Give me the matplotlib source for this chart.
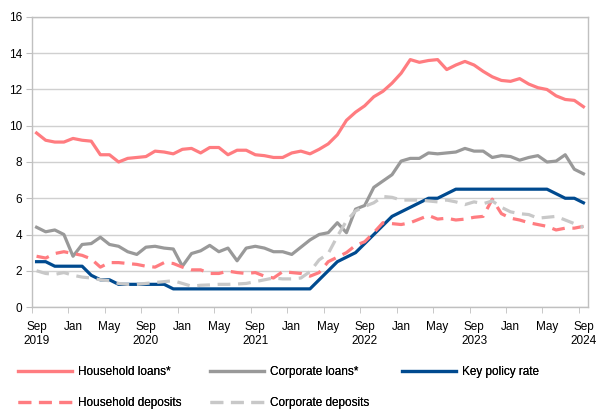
import numpy as np
import matplotlib
matplotlib.use('Agg')
import matplotlib.pyplot as plt

# monthly data, Sep 2019 .. Sep 2024
months = np.arange(61)

household_loans = [9.6, 9.2, 9.1, 9.1, 9.3, 9.2, 9.15, 8.4, 8.4, 8.0, 8.2, 8.25, 8.3,
                   8.6, 8.55, 8.45, 8.7, 8.75, 8.5, 8.8, 8.8, 8.4, 8.65, 8.65, 8.4,
                   8.35, 8.25, 8.25, 8.5, 8.6, 8.45, 8.7, 9.0, 9.5, 10.3, 10.75, 11.1,
                   11.6, 11.9, 12.35, 12.9, 13.65, 13.5, 13.6, 13.65, 13.1, 13.35, 13.55, 13.35,
                   13.0, 12.7, 12.5, 12.45, 12.6, 12.3, 12.1, 12.0, 11.65, 11.45, 11.4, 11.05]

corporate_loans = [4.4, 4.15, 4.25, 4.0, 2.8, 3.45, 3.5, 3.85, 3.45, 3.35, 3.05, 2.9, 3.3,
                   3.35, 3.25, 3.2, 2.25, 2.95, 3.1, 3.4, 3.05, 3.25, 2.55, 3.25, 3.35,
                   3.25, 3.05, 3.05, 2.9, 3.3, 3.7, 4.0, 4.1, 4.65, 4.1, 5.4, 5.6,
                   6.6, 6.95, 7.3, 8.05, 8.2, 8.2, 8.5, 8.45, 8.5, 8.55, 8.75, 8.6,
                   8.6, 8.25, 8.35, 8.3, 8.1, 8.25, 8.35, 8.0, 8.05, 8.4, 7.6, 7.35]

key_rate = [2.5, 2.5, 2.25, 2.25, 2.25, 2.25, 1.75, 1.5, 1.5, 1.25, 1.25, 1.25, 1.25,
            1.25, 1.25, 1.0, 1.0, 1.0, 1.0, 1.0, 1.0, 1.0, 1.0, 1.0, 1.0,
            1.0, 1.0, 1.0, 1.0, 1.0, 1.0, 1.5, 2.0, 2.5, 2.75, 3.0, 3.5,
            4.0, 4.5, 5.0, 5.25, 5.5, 5.75, 6.0, 6.0, 6.25, 6.5, 6.5, 6.5,
            6.5, 6.5, 6.5, 6.5, 6.5, 6.5, 6.5, 6.5, 6.25, 6.0, 6.0, 5.75]

household_deposits = [2.8, 2.7, 2.95, 3.05, 2.95, 2.85, 2.65, 2.2, 2.45, 2.45, 2.4, 2.35, 2.25,
                      2.2, 2.45, 2.4, 2.2, 2.05, 2.05, 1.85, 1.85, 1.98, 1.9, 1.85, 1.9,
                      1.7, 1.6, 1.95, 1.9, 1.85, 1.7, 1.9, 2.5, 2.75, 3.0, 3.4, 3.6,
                      4.1, 4.65, 4.6, 4.55, 4.65, 4.85, 5.05, 4.85, 4.9, 4.8, 4.85, 4.95,
                      5.0, 5.95, 5.15, 4.9, 4.8, 4.65, 4.55, 4.45, 4.25, 4.35, 4.35, 4.45]

corporate_deposits = [2.0, 1.85, 1.8, 1.9, 1.75, 1.65, 1.6, 1.5, 1.45, 1.3, 1.25, 1.25, 1.3,
                      1.35, 1.4, 1.45, 1.3, 1.15, 1.2, 1.22, 1.25, 1.25, 1.27, 1.3, 1.4,
                      1.5, 1.6, 1.55, 1.55, 1.6, 1.95, 2.6, 2.95, 3.9, 4.75, 5.3, 5.55,
                      5.75, 6.1, 6.05, 5.9, 5.9, 5.9, 5.85, 5.8, 5.9, 5.8, 5.65, 5.8,
                      5.7, 5.85, 5.5, 5.25, 5.15, 5.1, 4.9, 4.95, 5.0, 4.8, 4.6, 4.4]

tick_labels = ['Sep\n2019', 'Jan', 'May', 'Sep\n2020', 'Jan', 'May', 'Sep\n2021', 'Jan', 'May',
               'Sep\n2022', 'Jan', 'May', 'Sep\n2023', 'Jan', 'May', 'Sep\n2024']

PINK = '#ff7c80'
GREY = '#999999'
BLUE = '#004a8f'
LIGHT = '#c8c8c8'

plt.rcParams['font.family'] = ['Liberation Sans', 'DejaVu Sans']

W, H = 598, 409
fig = plt.figure(figsize=(W / 100, H / 100), dpi=100)
ax = fig.add_axes([32 / W, 1 - 307 / H, 556 / W, 290 / H])

lw = 2.3
dash = (4, 2.4)
l_hl, = ax.plot(months, household_loans, color=PINK, lw=lw)
l_cl, = ax.plot(months, corporate_loans, color=GREY, lw=lw)
l_kr, = ax.plot(months, key_rate, color=BLUE, lw=lw)
l_hd, = ax.plot(months, household_deposits, color=PINK, lw=lw, dashes=dash)
l_cd, = ax.plot(months, corporate_deposits, color=LIGHT, lw=lw, dashes=dash)

ax.set_xlim(-0.5, 60.5)
ax.set_ylim(0, 16)
ax.set_yticks(np.arange(0, 17, 2))
ax.grid(axis='y', color='#d0d0d0', lw=1)
ax.set_axisbelow(True)

ax.set_xticks(months[::4])
ax.set_xticklabels(tick_labels)
ax.set_xticks(np.arange(-0.5, 61, 4), minor=True)
ax.tick_params(axis='x', which='major', length=0, pad=10, labelsize=8.5)
ax.tick_params(axis='x', which='minor', length=4, color='#bfbfbf')
ax.tick_params(axis='y', length=4, color='#bfbfbf', labelsize=8.5, pad=3)

for s in ax.spines.values():
    s.set_color('#c0c0c0')
    s.set_linewidth(1)

# legend entries placed in a 3 x 2 grid under the plot (pixel positions)
entries = [
    (l_hl, 'Household loans*', 18, 372),
    (l_cl, 'Corporate loans*', 210, 372),
    (l_kr, 'Key policy rate', 402, 372),
    (l_hd, 'Household deposits', 18, 403),
    (l_cd, 'Corporate deposits', 210, 403),
]
for handle, text, px, py in entries:
    leg = fig.legend([handle], [text], loc='center left',
                     bbox_to_anchor=(px / W, 1 - py / H), bbox_transform=fig.transFigure,
                     frameon=False, fontsize=8.5, handlelength=4.6, handletextpad=0.45,
                     borderpad=0, borderaxespad=0)
    fig.add_artist(leg)

fig.savefig('out.png', dpi=100)
